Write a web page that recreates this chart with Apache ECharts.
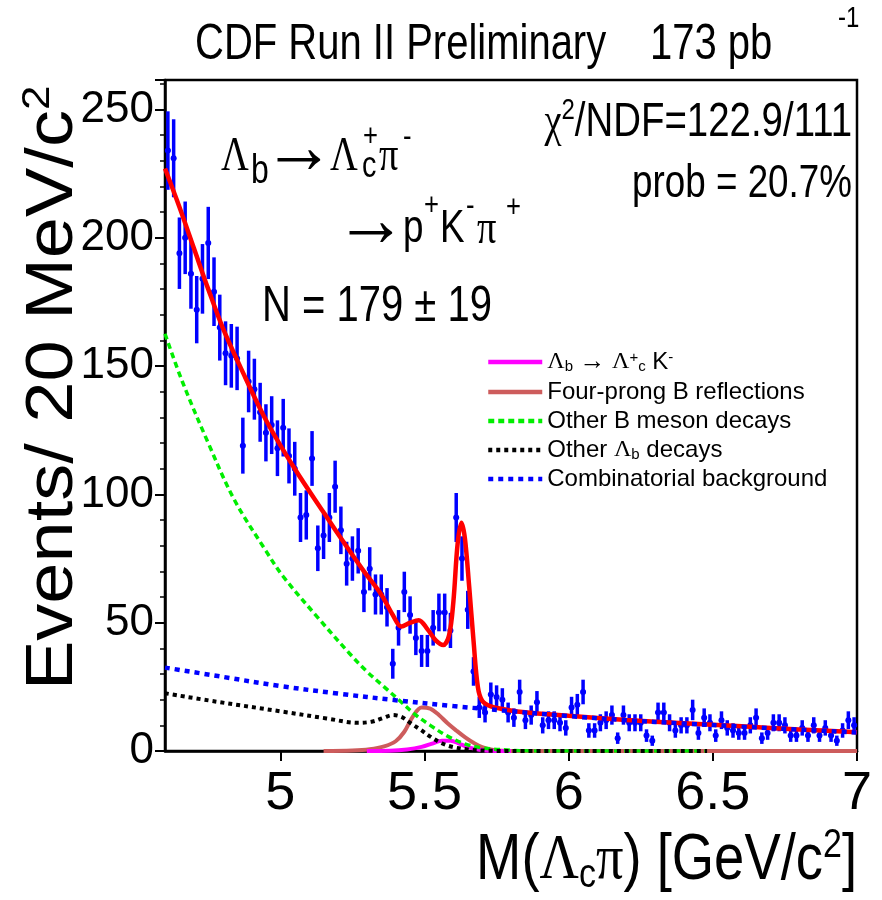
<!DOCTYPE html>
<html><head><meta charset="utf-8">
<script src="https://cdn.jsdelivr.net/npm/echarts@6/dist/echarts.min.js"></script>
<style>html,body{margin:0;padding:0;background:#fff}#c{width:882px;height:900px}</style>
</head><body><div id="c"></div>
<script>
// ---- data ----
const binLow = 4.6, binWidth = 0.02;
const counts = [234,231,194,200,186,172,184,198,179,165,
  155,154,153,119,144,141,132,124,127,118,
  126,115,110,91,92,114,79,84,91,103,
  86,73,75,78,62,71,61,61,56,34,
  48,62,53,44,39,39,48,54,54,47,
  91,75,55,31,17,15,22,21,20,15,
  13,23,12,14,19,10,12,12,11,9,
  17,18,23,8,8,11,12,14,5,14,
  11,11,11,6,4,15,15,11,8,10,
  10,16,7,13,11,6,12,9,8,7,
  7,10,13,5,7,11,11,10,6,6,
  9,6,10,6,9,6,4,8,12,10];
const xTicks = [5, 5.5, 6, 6.5, 7];
const yTicks = [0, 50, 100, 150, 200, 250];
const totalFit = [[4.60,227],[4.65,212],[4.70,196],[4.75,180],[4.80,165],[4.86,150],[4.95,129],[5.05,110],[5.15,93],[5.24,78],[5.29,70],[5.35,61],[5.39,53],[5.42,48.5],[5.45,50],[5.48,51],[5.51,47.5],[5.54,43],[5.565,41.3],[5.585,45],[5.60,58],[5.615,81],[5.628,89],[5.64,83],[5.655,64],[5.67,43],[5.685,25],[5.70,19.6],[5.73,17.4],[5.78,16.2],[5.83,15.3],[6.0,13.7],[6.2,12.1],[6.4,10.8],[6.6,9.6],[6.8,8.4],[7.0,7.3]];
const lbLcK = [[5.30,0],[5.38,0.1],[5.44,0.6],[5.49,1.6],[5.53,3.0],[5.56,4.0],[5.59,4.0],[5.62,2.9],[5.65,1.5],[5.69,0.5],[5.75,0],[5.80,0]];
const fourProng = [[5.15,0],[5.25,0.2],[5.31,0.7],[5.36,1.8],[5.40,3.8],[5.43,7.5],[5.46,13.5],[5.49,17],[5.52,16.5],[5.55,14],[5.58,10.8],[5.61,8],[5.64,5.4],[5.67,3.2],[5.70,1.5],[5.74,0.4],[5.80,0],[6.0,0],[7.0,0]];
const otherB = [[4.60,162.6],[4.66,144],[4.75,120],[4.84,98],[4.95,78],[5.01,68],[5.13,52],[5.24,38],[5.30,31],[5.36,25],[5.42,19],[5.47,14],[5.52,10],[5.58,5.8],[5.64,2.8],[5.70,1.2],[5.80,0.3],[5.90,0],[6.48,0]];
const otherLb = [[4.60,22.5],[4.78,19.2],[5.01,15.3],[5.16,12.7],[5.27,11],[5.32,11.5],[5.36,13],[5.39,14],[5.42,13.3],[5.45,11],[5.49,8],[5.52,5.6],[5.56,3],[5.60,1.5],[5.65,0.6],[5.72,0.1],[5.80,0],[6.48,0]];
const combinatorial = [[4.6,32.5],[4.8,28.9],[5.0,25.3],[5.2,22.4],[5.4,19.8],[5.6,17.5],[5.8,15.5],[6.0,13.6],[6.2,12.0],[6.4,10.7],[6.6,9.5],[6.8,8.3],[7.0,7.2]];
const legendNames = ['Λb → Λc+ K-','Four-prong B reflections','Other B meson decays','Other Λb decays','Combinatorial background'];

// ---- build ----
const points = counts.map((n, i) => [binLow + binWidth * (i + 0.5), n, Math.sqrt(n)]);
const SANS = "'Liberation Sans', Arial, sans-serif";
const SERIF = "'Liberation Serif', 'DejaVu Serif', serif";

function lineSeries(name, data, color, width, type, z) {
  return { name, type: 'line', data, smooth: 0.35, symbol: 'none', z,
    lineStyle: { color, width, type }, itemStyle: { color }, silent: true };
}

function txt(t, x, y, size, opts) {
  opts = opts || {};
  return { type: 'text', x, y, scaleX: opts.sx == null ? 0.8 : opts.sx, z: 50,
    rotation: opts.rot || 0,
    style: { text: t, fontSize: size, fontFamily: opts.font || SANS, fill: '#000',
      align: opts.align || 'left', verticalAlign: 'middle', rich: opts.rich } };
}

const chart = echarts.init(document.getElementById('c'), null, { renderer: 'canvas' });
const legendRich = {
  t: { fontSize: 24, fontFamily: SANS, lineHeight: 24, verticalAlign: 'middle', color: '#000' },
  g: { fontSize: 24, fontFamily: SERIF, lineHeight: 24, verticalAlign: 'middle', color: '#000' },
  sub: { fontSize: 15, fontFamily: SANS, lineHeight: 12, verticalAlign: 'bottom', color: '#000' },
  sup: { fontSize: 15, fontFamily: SANS, lineHeight: 12, verticalAlign: 'top', color: '#000' },
  ar: { fontSize: 26, fontFamily: SERIF, lineHeight: 24, verticalAlign: 'middle', color: '#000' }
};
const legendFmt = {
  'Λb → Λc+ K-': '{g|Λ}{sub|b}{ar| → }{g|Λ}{sup|+}{sub|c}{t| K}{sup|-}',
  'Four-prong B reflections': '{t|Four-prong B reflections}',
  'Other B meson decays': '{t|Other B meson decays}',
  'Other Λb decays': '{t|Other }{g|Λ}{sub|b}{t| decays}',
  'Combinatorial background': '{t|Combinatorial background}'
};

const option = {
  animation: false,
  backgroundColor: '#fff',
  grid: { left: 165, right: 25, top: 80, bottom: 149, show: true, borderColor: '#000', borderWidth: 2.5, outerBoundsMode: 'none' },
  xAxis: {
    type: 'value', min: 4.6, max: 7.0,
    axisLine: { lineStyle: { color: '#000', width: 2.5 } },
    axisTick: { length: 10, lineStyle: { color: '#000', width: 2 }, customValues: xTicks },
    axisLabel: { customValues: xTicks, fontSize: 54, fontFamily: SANS, color: '#000', margin: 16,
      formatter: v => String(v) },
    splitLine: { show: false }
  },
  yAxis: {
    type: 'value', min: 0, max: 261.5, interval: 50,
    axisLine: { lineStyle: { color: '#000', width: 2.5 } },
    axisTick: { length: 10, lineStyle: { color: '#000', width: 2 } },
    minorTick: { show: true, splitNumber: 5, length: 5, lineStyle: { color: '#000', width: 1.5 } },
    axisLabel: { fontSize: 44, fontFamily: SANS, color: '#000', margin: 11, showMaxLabel: false,
      formatter: v => (yTicks.indexOf(v) >= 0 ? String(v) : '') },
    splitLine: { show: false }
  },
  legend: {
    data: legendNames, orient: 'vertical', left: 481, top: 344, itemWidth: 54, itemHeight: 14, itemGap: 5,
    selectedMode: false,
    itemStyle: { opacity: 0, borderWidth: 0 },
    lineStyle: { width: 4.5 },
    formatter: n => legendFmt[n], textStyle: { rich: legendRich, fontSize: 24, fontFamily: SANS }
  },
  series: [
    { type: 'custom', name: 'data', coordinateSystem: 'cartesian2d', data: points, z: 2, silent: true,
      encode: { x: 0, y: 1 },
      renderItem: (params, api) => {
        const x = api.value(0), y = api.value(1), e = api.value(2);
        const top = api.coord([x, y + e]);
        const bot = api.coord([x, Math.max(y - e, 0)]);
        const c = api.coord([x, y]);
        const l = api.coord([x - binWidth / 2, y]);
        const r = api.coord([x + binWidth / 2, y]);
        return { type: 'group', children: [
          { type: 'line', shape: { x1: top[0], y1: top[1], x2: bot[0], y2: bot[1] }, style: { stroke: '#0000ff', lineWidth: 3.5 } },
          { type: 'line', shape: { x1: l[0] + 0.5, y1: c[1], x2: r[0] - 0.5, y2: c[1] }, style: { stroke: '#0000ff', lineWidth: 3 } },
          { type: 'circle', shape: { cx: c[0], cy: c[1], r: 3 }, style: { fill: '#0000ff' } }
        ] };
      }
    },
    lineSeries('total', totalFit, '#ff0000', 4.5, 'solid', 3),
    lineSeries(legendNames[1], fourProng, '#cd5c5c', 4, 'solid', 4),
    lineSeries(legendNames[0], lbLcK, '#ff00ff', 4, 'solid', 4),
    lineSeries(legendNames[2], otherB, '#00ee00', 3.5, [6, 4], 5),
    lineSeries(legendNames[3], otherLb, '#000000', 4, [4, 4], 5),
    lineSeries(legendNames[4], combinatorial, '#0000ff', 4.5, [5, 5], 6)
  ],
  graphic: [
    txt('CDF Run II Preliminary', 195, 45, 50),
    txt('173 pb', 650, 45, 50),
    txt('-1', 838, 19, 30),
    { type: 'text', x: 852, y: 123, scaleX: 0.8, z: 50, style: { text: '{g|χ}{sup|2}{t|/NDF=122.9/111}', align: 'right', verticalAlign: 'middle',
      rich: { t: { fontSize: 48, fontFamily: SANS, lineHeight: 54, verticalAlign: 'middle' },
              g: { fontSize: 48, fontFamily: SERIF, lineHeight: 54, verticalAlign: 'middle' },
              sup: { fontSize: 30, fontFamily: SANS, lineHeight: 34, verticalAlign: 'top' } } } },
    txt('prob = 20.7%', 852, 184, 46, { align: 'right' }),
    // Λb → Λc+ π-
    txt('Λ', 221, 157, 48, { font: SERIF }),
    txt('b', 251, 172, 40),
    txt('→', 263, 152, 80, { font: SERIF, sx: 0.9 }),
    txt('Λ', 330, 157, 48, { font: SERIF }),
    txt('+', 363, 137, 32),
    txt('c', 362, 167, 36),
    txt('π', 379, 157, 48, { font: SERIF }),
    txt('-', 403, 137, 32),
    // → p+ K- π+
    txt('→', 335, 225, 80, { font: SERIF, sx: 0.9 }),
    txt('p', 403, 229, 46),
    txt('+', 424, 206, 32),
    txt('K', 440, 229, 46),
    txt('-', 466, 206, 32),
    txt('π', 477, 230, 48, { font: SERIF }),
    txt('+', 506, 208, 32),
    txt('N = 179 ± 19', 262, 307, 50),
    // axis titles
    { type: 'text', x: 857, y: 861, scaleX: 0.85, z: 50, style: { text: '{t|M(}{g|Λ}{sub|c}{g|π}{t|) [GeV/c}{sup|2}{t|]}', align: 'right', verticalAlign: 'middle',
      rich: { t: { fontSize: 64, fontFamily: SANS, lineHeight: 70, verticalAlign: 'middle' },
              g: { fontSize: 64, fontFamily: SERIF, lineHeight: 70, verticalAlign: 'middle' },
              sub: { fontSize: 40, fontFamily: SANS, lineHeight: 38, verticalAlign: 'bottom' },
              sup: { fontSize: 40, fontFamily: SANS, lineHeight: 38, verticalAlign: 'top' } } } },
    { type: 'text', x: 54, y: 690, rotation: Math.PI / 2, scaleY: 0.9, z: 50, style: { text: '{t|Events/ 20 MeV/c}{sup|2}', align: 'left', verticalAlign: 'middle',
      rich: { t: { fontSize: 74, fontFamily: SANS, lineHeight: 80, verticalAlign: 'middle' },
              sup: { fontSize: 44, fontFamily: SANS, lineHeight: 44, verticalAlign: 'top' } } } }
  ]
};
chart.setOption(option);
</script></body></html>
